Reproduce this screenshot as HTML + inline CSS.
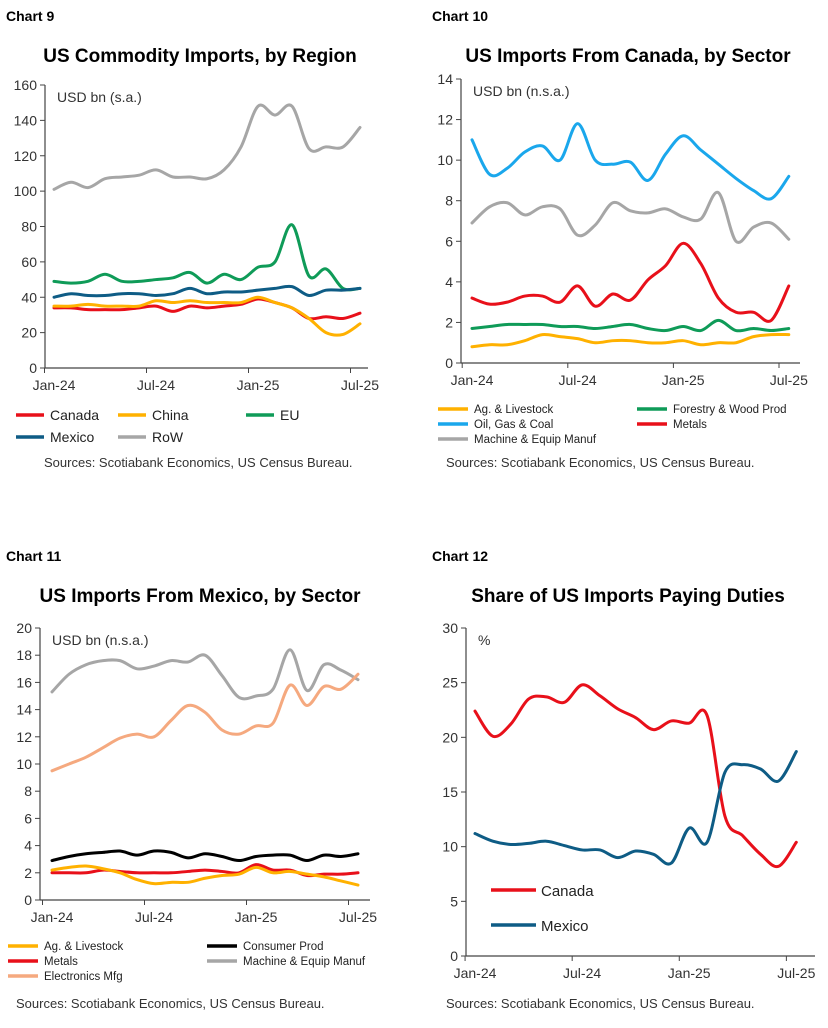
<!DOCTYPE html>
<html><head><meta charset="utf-8"><style>
body{margin:0;background:#fff;width:828px;height:1023px;overflow:hidden;font-family:"Liberation Sans",sans-serif}
svg text{font-family:"Liberation Sans",sans-serif}
</style></head><body>
<svg id="s" width="828" height="1023" xmlns="http://www.w3.org/2000/svg">
<g font-size="14" font-weight="bold" fill="#000">
<text x="6" y="21">Chart 9</text><text x="432" y="21">Chart 10</text>
<text x="6" y="561">Chart 11</text><text x="432" y="561">Chart 12</text>
</g>
<g font-size="19" font-weight="bold" fill="#000" text-anchor="middle">
<text x="200" y="62">US Commodity Imports, by Region</text>
<text x="628" y="62">US Imports From Canada, by Sector</text>
<text x="200" y="602">US Imports From Mexico, by Sector</text>
<text x="628" y="602">Share of US Imports Paying Duties</text>
</g>
<g font-size="13" fill="#333">
<text x="44" y="467">Sources: Scotiabank Economics, US Census Bureau.</text>
<text x="446" y="467">Sources: Scotiabank Economics, US Census Bureau.</text>
<text x="16" y="1008">Sources: Scotiabank Economics, US Census Bureau.</text>
<text x="446" y="1008">Sources: Scotiabank Economics, US Census Bureau.</text>
</g>
<g id="g"></g>
</svg>
<script>
var NS="http://www.w3.org/2000/svg",G=document.getElementById('g');
function el(t,a,txt){var e=document.createElementNS(NS,t);for(var k in a)e.setAttribute(k,a[k]);if(txt!=null)e.textContent=txt;G.appendChild(e);return e;}
function path(pts){var d="M"+pts[0][0]+","+pts[0][1];for(var i=0;i<pts.length-1;i++){var p0=pts[i-1]||pts[i],p1=pts[i],p2=pts[i+1],p3=pts[i+2]||p2;
d+=" C"+(p1[0]+(p2[0]-p0[0])/6)+","+(p1[1]+(p2[1]-p0[1])/6)+" "+(p2[0]-(p3[0]-p1[0])/6)+","+(p2[1]-(p3[1]-p1[1])/6)+" "+p2[0]+","+p2[1];}return d;}
function chart(c){
 var ax=c.ax,top=c.top,bot=c.bot,right=c.right;
 el('line',{x1:ax,y1:top,x2:ax,y2:bot,stroke:'#444','stroke-width':1.2});
 el('line',{x1:ax,y1:bot,x2:right,y2:bot,stroke:'#444','stroke-width':1.2});
 var n=c.max/c.step;
 for(var i=0;i<=n;i++){var y=bot-(bot-top)*i/n;el('line',{x1:ax-5,y1:y,x2:ax,y2:y,stroke:'#444'});
  el('text',{x:ax-8,y:y+5,'text-anchor':'end','font-size':14,fill:'#333'},String(i*c.step));}
 var lab=['Jan-24','Jul-24','Jan-25','Jul-25'];
 for(var j=0;j<4;j++){var x=c.x0+j*6*c.dx,tx=x-c.dx/2-1;el('line',{x1:tx,y1:bot,x2:tx,y2:bot+5,stroke:'#444'});
  el('text',{x:x,y:bot+22,'text-anchor':'middle','font-size':14,fill:'#333'},lab[j]);}
 el('text',{x:ax+12,y:top+17,'font-size':14,fill:'#333'},c.unit);
 c.s.forEach(function(s){var pts=s[1].map(function(v,i){return [c.x0+i*c.dx,bot-(bot-top)*v/c.max];});
  el('path',{d:path(pts),fill:'none',stroke:s[0],'stroke-width':3,'stroke-linejoin':'round','stroke-linecap':'round'});});
}
var R='#e8101a',Y='#ffb100',GR='#0f9b58',B='#0e5c85',GY='#a6a6a6',LB='#1aa7ec',K='#000',P='#f5a97f';
chart({ax:45,top:85,bot:368,right:368,max:160,step:20,x0:54,dx:17,unit:'USD bn (s.a.)',s:[
[GY,[101,105,102,107,108,109,112,108,108,107,112,125,148,143,148,124,125,125,136]],
[GR,[49,48,49,53,49,49,50,51,54,48,53,50,57,60,81,52,56,45,45]],
[B,[40,42,41,41,42,42,41,42,45,42,43,43,44,45,46,41,44,44,45]],
[R,[34,34,33,33,33,34,35,32,35,34,35,36,39,37,34,28,29,28,31]],
[Y,[35,35,36,35,35,35,38,37,38,37,37,37,40,37,34,28,20,19,25]]]});
chart({ax:461,top:79,bot:363,right:800,max:14,step:2,x0:472,dx:17.6,unit:'USD bn (n.s.a.)',s:[
[LB,[11,9.3,9.6,10.4,10.7,10,11.8,10,9.8,9.9,9,10.3,11.2,10.5,9.8,9.1,8.5,8.1,9.2]],
[GY,[6.9,7.7,7.9,7.3,7.7,7.6,6.3,6.8,7.9,7.5,7.4,7.6,7.2,7.1,8.4,6.0,6.7,6.9,6.1]],
[R,[3.2,2.9,3.0,3.3,3.3,3.0,3.8,2.8,3.4,3.1,4.1,4.8,5.9,4.9,3.2,2.5,2.5,2.1,3.8]],
[GR,[1.7,1.8,1.9,1.9,1.9,1.8,1.8,1.7,1.8,1.9,1.7,1.6,1.8,1.6,2.1,1.6,1.7,1.6,1.7]],
[Y,[0.8,0.9,0.9,1.1,1.4,1.3,1.2,1.0,1.1,1.1,1.0,1.0,1.1,0.9,1.0,1.0,1.3,1.4,1.4]]]});
chart({ax:40,top:628,bot:900,right:370,max:20,step:2,x0:52,dx:17,unit:'USD bn (n.s.a.)',s:[
[GY,[15.3,16.6,17.3,17.6,17.6,17.0,17.2,17.6,17.5,18.0,16.5,14.9,15.0,15.5,18.4,15.4,17.3,16.9,16.2]],
[P,[9.5,10.0,10.5,11.2,11.9,12.2,12.0,13.2,14.3,13.8,12.5,12.2,12.8,13.0,15.8,14.3,15.7,15.5,16.6]],
[K,[2.9,3.2,3.4,3.5,3.6,3.3,3.6,3.5,3.1,3.4,3.2,2.9,3.2,3.3,3.3,2.9,3.3,3.2,3.4]],
[R,[2.0,2.0,2.0,2.2,2.1,2.0,2.0,2.0,2.1,2.2,2.1,2.0,2.6,2.2,2.2,1.8,1.9,1.9,2.0]],
[Y,[2.2,2.4,2.5,2.3,2.0,1.5,1.2,1.3,1.3,1.6,1.8,1.9,2.4,2.0,2.1,1.9,1.7,1.4,1.1]]]});
chart({ax:466,top:628,bot:956,right:815,max:30,step:5,x0:475,dx:17.85,unit:'%',s:[
[R,[22.4,20.1,21.2,23.5,23.7,23.2,24.8,23.8,22.6,21.8,20.7,21.5,21.3,22.0,12.8,11,9.3,8.2,10.4]],
[B,[11.2,10.5,10.2,10.3,10.5,10.1,9.7,9.7,9.0,9.6,9.3,8.5,11.7,10.4,16.8,17.5,17.1,16.0,18.7]]]});
function leg(x,y,c,t){el('line',{x1:x,y1:y,x2:x+28,y2:y,stroke:c,'stroke-width':3.5});el('text',{x:x+34,y:y+5,'font-size':14,fill:'#222'},t);}
leg(16,415,R,'Canada');leg(118,415,Y,'China');leg(246,415,GR,'EU');leg(16,437,B,'Mexico');leg(118,437,GY,'RoW');
function leg2(x,y,c,t){el('line',{x1:x,y1:y,x2:x+30,y2:y,stroke:c,'stroke-width':3.5});el('text',{x:x+36,y:y+4,'font-size':11.5,fill:'#222'},t);}
leg2(438,409,Y,'Ag. & Livestock');leg2(637,409,GR,'Forestry & Wood Prod');leg2(438,424,LB,'Oil, Gas & Coal');leg2(637,424,R,'Metals');leg2(438,439,GY,'Machine & Equip Manuf');
leg2(8,946,Y,'Ag. & Livestock');leg2(207,946,K,'Consumer Prod');leg2(8,961,R,'Metals');leg2(207,961,GY,'Machine & Equip Manuf');leg2(8,976,P,'Electronics Mfg');
function leg3(x,y,c,t){el('line',{x1:x,y1:y,x2:x+45,y2:y,stroke:c,'stroke-width':3.5});el('text',{x:x+50,y:y+6,'font-size':15,fill:'#222'},t);}
leg3(491,890,R,'Canada');leg3(491,925,B,'Mexico');
</script>
</body></html>
